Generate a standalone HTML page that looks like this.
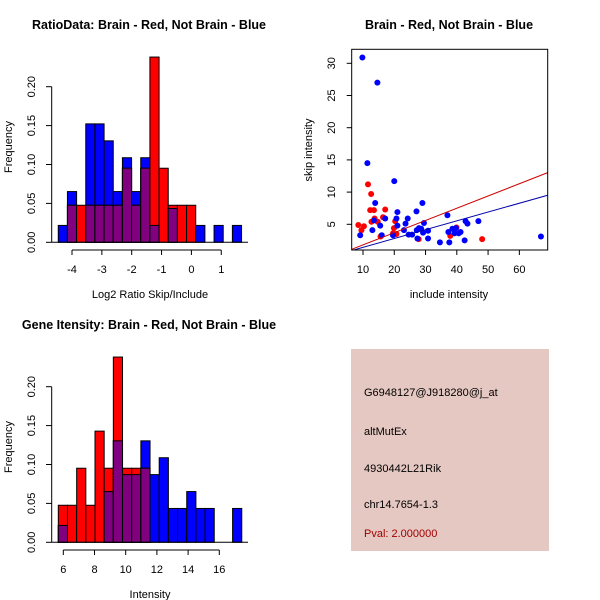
<!DOCTYPE html>
<html><head><meta charset="utf-8"><style>
body{margin:0;background:#fff}
svg{display:block;font-family:"Liberation Sans",sans-serif}
</style></head><body>
<svg id="c" width="600" height="600" xmlns="http://www.w3.org/2000/svg">
<rect width="600" height="600" fill="#fff"/>
<text x="149" y="29" font-size="12.5" font-weight="bold" text-anchor="middle">RatioData: Brain - Red, Not Brain - Blue</text>
<text x="449" y="29" font-size="12.5" font-weight="bold" text-anchor="middle">Brain - Red, Not Brain - Blue</text>
<text x="149" y="329" font-size="12.5" font-weight="bold" text-anchor="middle">Gene Itensity: Brain - Red, Not Brain - Blue</text>
<text x="150" y="298" font-size="11" text-anchor="middle">Log2 Ratio Skip/Include</text>
<text x="150" y="598" font-size="11" text-anchor="middle">Intensity</text>
<text x="449" y="298" font-size="11" text-anchor="middle">include intensity</text>
<text transform="translate(12,147) rotate(-90)" font-size="11" text-anchor="middle">Frequency</text>
<text transform="translate(12,447) rotate(-90)" font-size="11" text-anchor="middle">Frequency</text>
<text transform="translate(312,150) rotate(-90)" font-size="11" text-anchor="middle">skip intensity</text>
<g>
<rect x="351" y="349" width="198" height="202" fill="#e6c8c2"/>
<text x="364" y="396" font-size="11">G6948127@J918280@j_at</text>
<text x="364" y="435" font-size="11">altMutEx</text>
<text x="364" y="472" font-size="11">4930442L21Rik</text>
<text x="364" y="508" font-size="11">chr14.7654-1.3</text>
<text x="364" y="537" font-size="11" fill="#a00000">Pval: 2.000000</text>
</g>
</svg>
<script>
// Histogram 1 (log2 ratio) data
const ratioBinStart = -4.46;
const ratioBinWidth = 0.307;
const ratioBlue = [0.0217,0.0652,0,0.1522,0.1522,0.1304,0.0652,0.1087,0.0652,0.1087,0.0217,0,0.0435,0,0,0.0217,0,0.0217,0,0.0217];
const ratioRed  = [0,0.0476,0.0476,0.0476,0.0476,0.0476,0.0476,0.0952,0.0476,0.0952,0.2381,0.0952,0.0476,0.0476,0.0476,0,0,0,0,0];
const ratioXTicks = [-4,-3,-2,-1,0,1];
// Histogram 2 (intensity) data
const intBinStart = 5.68;
const intBinWidth = 0.588;
const intBlue = [0.0217,0,0,0,0,0.0652,0.1304,0.087,0.087,0.1304,0.087,0.1087,0.0435,0.0435,0.0652,0.0435,0.0435,0,0,0.0435];
const intRed  = [0.0476,0.0476,0.0952,0.0476,0.1429,0.0952,0.2381,0.0952,0.0952,0.0952,0,0,0,0,0,0,0,0,0,0];
const intXTicks = [6,8,10,12,14,16];
const freqTicks = ["0.00","0.05","0.10","0.15","0.20"];
// Scatter data
const blueX = [9.8,14.6,11.4,20.0,13.9,29.0,21.0,27.1,37.0,9.1,13.0,13.5,15.5,16.0,17.1,19.6,20.7,21.0,23.1,23.6,24.3,24.6,25.7,27.2,27.9,28.6,29.2,29.5,30.8,30.8,34.6,37.3,37.6,38.6,39.3,39.7,40.6,41.2,42.5,42.8,43.4,46.9,66.9,27.4];
const blueY = [30.9,27.0,14.5,11.7,8.3,8.3,6.9,7.0,6.4,3.3,4.1,5.6,4.8,3.3,5.9,3.3,5.9,4.8,4.1,5.1,5.9,3.4,3.4,4.1,4.4,4.3,3.7,5.2,4.0,2.8,2.2,3.8,2.2,4.3,3.6,4.4,3.6,3.8,2.5,5.5,5.1,5.5,3.1,2.8];
const redX = [11.6,12.6,12.3,13.5,17.1,8.5,10.3,9.5,12.7,13.7,14.7,16.4,20.3,19.9,19.6,20.7,27.8,37.9,39.9,48.1,15.6];
const redY = [11.2,9.7,7.2,7.2,7.3,4.9,4.7,4.1,5.4,5.9,5.4,6.1,5.5,4.4,3.6,3.5,2.7,3.2,4.5,2.7,3.1];
const redFit = [-0.1,0.19];
const blueFit = [0.05,0.137];
const scatterXTicks = [10,20,30,40,50,60];
const scatterYTicks = [5,10,15,20,25,30];

const NS="http://www.w3.org/2000/svg";
const svg=document.getElementById('c');
function mk(tag,attrs,parent){const e=document.createElementNS(NS,tag);for(const k in attrs)e.setAttribute(k,attrs[k]);(parent||svg).appendChild(e);return e;}

function drawHist(name,oy,binStart,binWidth,blue,red,xTicks,x0val,pxPerUnit){
  const g=mk('g',{});
  
  
  const sx=v=>x0val.px+(v-x0val.v)*pxPerUnit;
  const base=oy+242.3, sy=f=>base-f*(155.6/0.2);
  for(let i=0;i<blue.length;i++){
    const xl=sx(binStart+i*binWidth), w=binWidth*pxPerUnit;
    const b=blue[i], r=red[i], m=Math.min(b,r);
    if(b>0){const e=mk('rect',{x:xl,y:sy(b),width:w,height:base-sy(b),fill:'#0000ff',stroke:'#000','stroke-width':1},g);
      
      }
    if(r>0){const e=mk('rect',{x:xl,y:sy(r),width:w,height:base-sy(r),fill:'#ff0000',stroke:'#000','stroke-width':1},g);
      
      }
    if(m>0){const e=mk('rect',{x:xl,y:sy(m),width:w,height:base-sy(m),fill:'#800080',stroke:'#000','stroke-width':1},g);
      
      }
  }
  mk('line',{x1:51.7,x2:248,y1:base,y2:base,stroke:'#000'},g);
  mk('line',{x1:51.7,x2:51.7,y1:sy(0),y2:sy(0.2),stroke:'#000'},g);
  freqTicks.forEach(t=>{const y=sy(parseFloat(t));
    mk('line',{x1:46,x2:51.7,y1:y,y2:y,stroke:'#000'},g);
    const tx=mk('text',{transform:`translate(35,${y}) rotate(-90)`,'font-size':11,'text-anchor':'middle'},g);tx.textContent=t;
    
    });
  const ay=oy+250;
  mk('line',{x1:sx(xTicks[0]),x2:sx(xTicks[xTicks.length-1]),y1:ay,y2:ay,stroke:'#000'},g);
  xTicks.forEach(t=>{const x=sx(t);
    mk('line',{x1:x,x2:x,y1:ay,y2:ay+5,stroke:'#000'},g);
    const tx=mk('text',{x:x,y:ay+23,'font-size':11,'text-anchor':'middle'},g);tx.textContent=t;
    
    });
}
drawHist('ratio-histogram',0,ratioBinStart,ratioBinWidth,ratioBlue,ratioRed,ratioXTicks,{v:-4,px:72},29.85);
drawHist('intensity-histogram',300,intBinStart,intBinWidth,intBlue,intRed,intXTicks,{v:6,px:63.3},15.6);

(function(){
  const g=mk('g',{});
  
  
  const L=351.7,R=547.7,T=49.3,B=250;
  const sx=v=>363+(v-10)*3.127, sy=v=>224.3-(v-5)*6.44;
  const clip=mk('clipPath',{id:'sc'},g);mk('rect',{x:L,y:T,width:R-L,height:B-T},clip);
  const xa=(L-363)/3.127+10, xb=(R-363)/3.127+10;
  for(let i=0;i<redX.length;i++){const c=mk('circle',{cx:sx(redX[i]),cy:sy(redY[i]),r:3,fill:'#ff0000'},g);
    
    }
  for(let i=0;i<blueX.length;i++){const c=mk('circle',{cx:sx(blueX[i]),cy:sy(blueY[i]),r:3,fill:'#0000ff'},g);
    
    }
  const rl=mk('line',{x1:sx(xa),y1:sy(redFit[0]+redFit[1]*xa),x2:sx(xb),y2:sy(redFit[0]+redFit[1]*xb),stroke:'#cc0000','clip-path':'url(#sc)'},g);
  
  
  const bl=mk('line',{x1:sx(xa),y1:sy(blueFit[0]+blueFit[1]*xa),x2:sx(xb),y2:sy(blueFit[0]+blueFit[1]*xb),stroke:'#0000aa','clip-path':'url(#sc)'},g);
  
  
  mk('rect',{x:L,y:T,width:R-L,height:B-T,fill:'none',stroke:'#000'},g);
  scatterXTicks.forEach(t=>{const x=sx(t);
    mk('line',{x1:x,x2:x,y1:B,y2:B+5,stroke:'#000'},g);
    const tx=mk('text',{x:x,y:B+23,'font-size':11,'text-anchor':'middle'},g);tx.textContent=t;
    
    });
  scatterYTicks.forEach(t=>{const y=sy(t);
    mk('line',{x1:L-5,x2:L,y1:y,y2:y,stroke:'#000'},g);
    const tx=mk('text',{transform:`translate(335,${y}) rotate(-90)`,'font-size':11,'text-anchor':'middle'},g);tx.textContent=t;
    
    });
})();
</script>
</body></html>
